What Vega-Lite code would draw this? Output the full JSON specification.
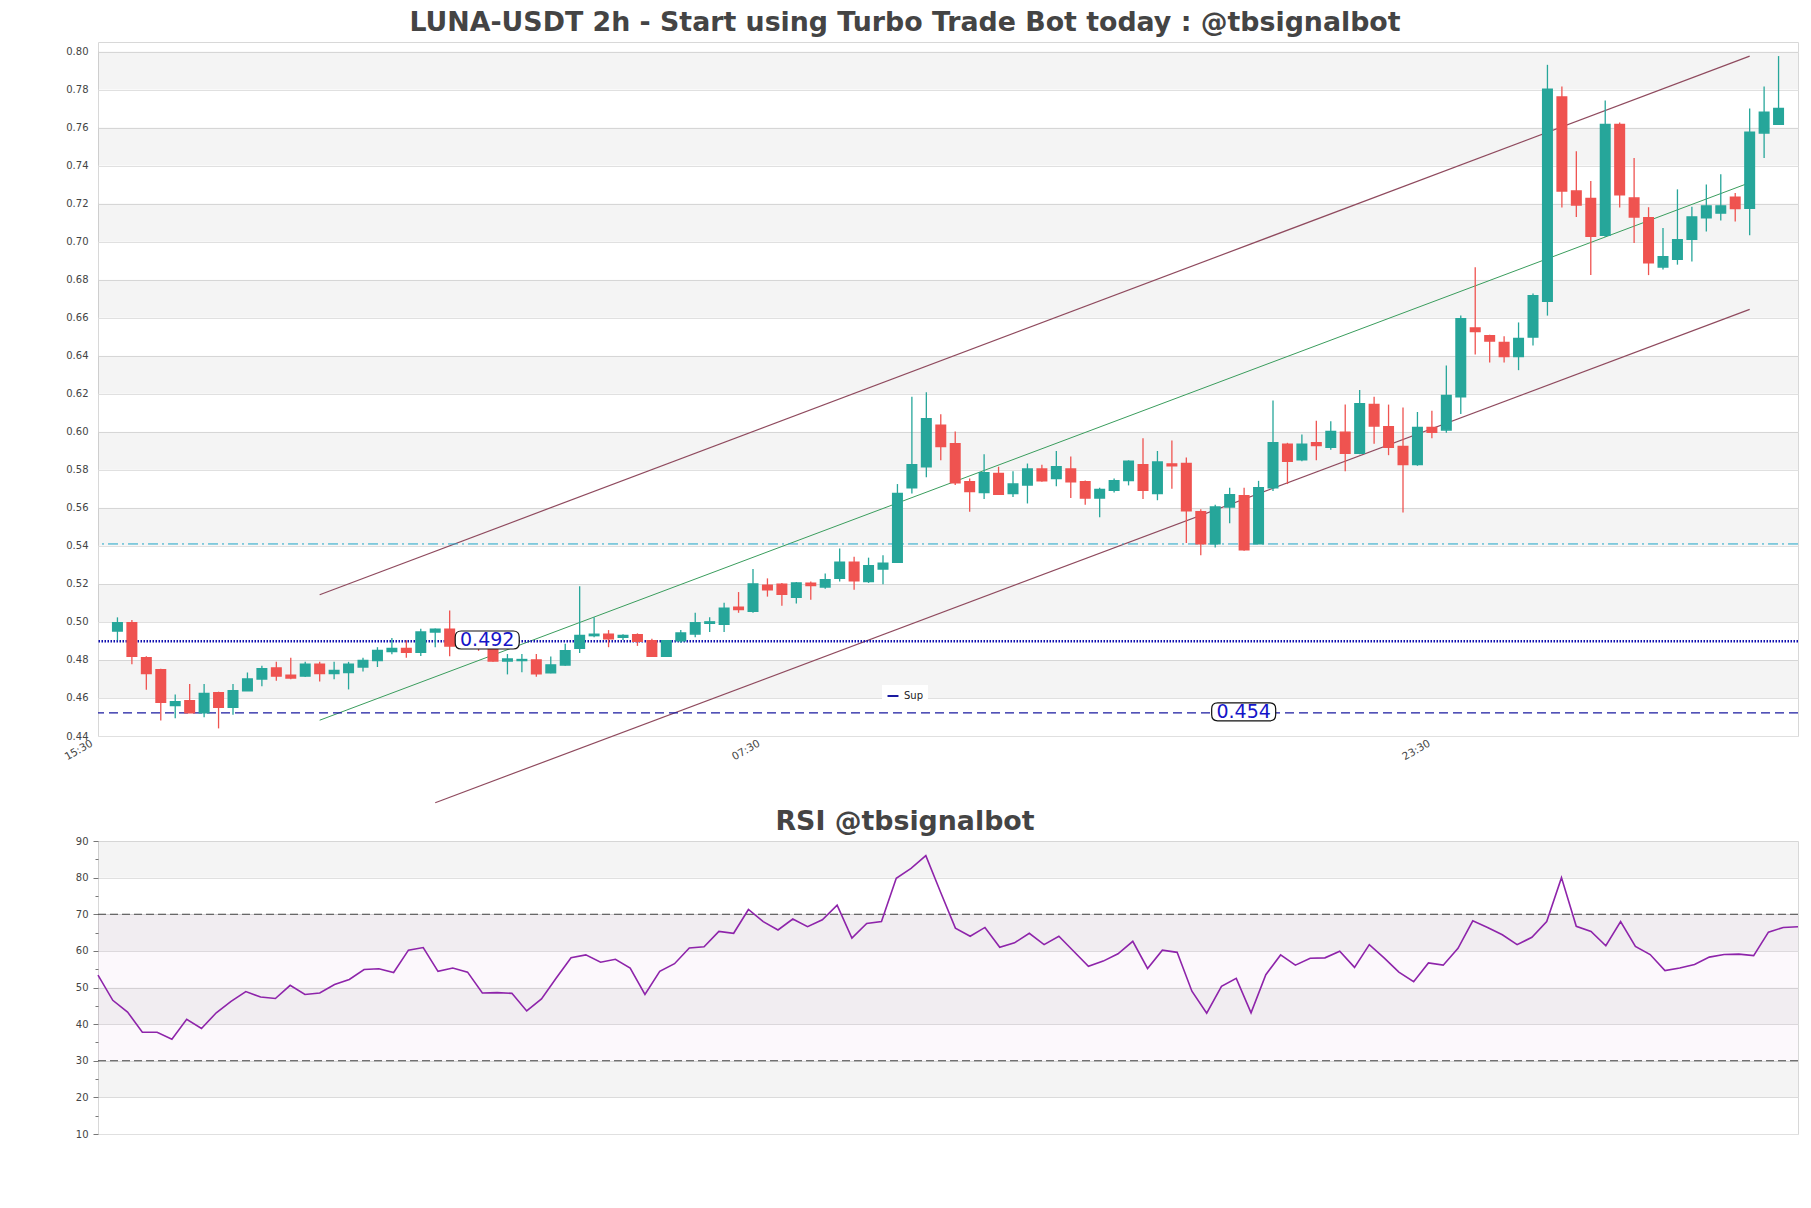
{
  "$schema": "https://vega.github.io/schema/vega-lite/v6.json",
  "background": "white",
  "padding": {"left": 62, "top": 9, "right": 14, "bottom": 10},
  "spacing": 2,
  "config": {
    "font": "DejaVu Sans",
    "view": {"stroke": "#d8d8d8", "strokeWidth": 1},
    "axis": {"labelFont": "DejaVu Sans", "labelFontSize": 10, "labelColor": "#444", "domain": false, "ticks": false, "title": null, "gridColor": "#e0e0e0", "gridWidth": 1, "labelOverlap": false},
    "title": {"font": "DejaVu Sans", "fontSize": 26.8, "fontWeight": "bold", "color": "#444", "anchor": "middle"}
  },
  "datasets": {
    "candles": [
      {"i":1,"o":0.4952,"h":0.5024,"l":0.4903,"c":0.4995},
      {"i":2,"o":0.4995,"h":0.5010,"l":0.4778,"c":0.4819},
      {"i":3,"o":0.4812,"h":0.4820,"l":0.4643,"c":0.4729},
      {"i":4,"o":0.4749,"h":0.4754,"l":0.4481,"c":0.4577},
      {"i":5,"o":0.4560,"h":0.4618,"l":0.4493,"c":0.4580},
      {"i":6,"o":0.4585,"h":0.4674,"l":0.4522,"c":0.4522},
      {"i":7,"o":0.4522,"h":0.4674,"l":0.4498,"c":0.4623},
      {"i":8,"o":0.4628,"h":0.4633,"l":0.4440,"c":0.4551},
      {"i":9,"o":0.4551,"h":0.4674,"l":0.4512,"c":0.4638},
      {"i":10,"o":0.4638,"h":0.4734,"l":0.4638,"c":0.4700},
      {"i":11,"o":0.4700,"h":0.4770,"l":0.4662,"c":0.4754},
      {"i":12,"o":0.4758,"h":0.4790,"l":0.4691,"c":0.4715},
      {"i":13,"o":0.4720,"h":0.4812,"l":0.4698,"c":0.4705},
      {"i":14,"o":0.4715,"h":0.4790,"l":0.4710,"c":0.4778},
      {"i":15,"o":0.4778,"h":0.4790,"l":0.4686,"c":0.4729},
      {"i":16,"o":0.4729,"h":0.4790,"l":0.4698,"c":0.4744},
      {"i":17,"o":0.4734,"h":0.4790,"l":0.4645,"c":0.4778},
      {"i":18,"o":0.4763,"h":0.4812,"l":0.4739,"c":0.4797},
      {"i":19,"o":0.4797,"h":0.4867,"l":0.4763,"c":0.4850},
      {"i":20,"o":0.4845,"h":0.4915,"l":0.4830,"c":0.4860},
      {"i":21,"o":0.4860,"h":0.4903,"l":0.4812,"c":0.4841},
      {"i":22,"o":0.4841,"h":0.4964,"l":0.4821,"c":0.4947},
      {"i":23,"o":0.4947,"h":0.4966,"l":0.4867,"c":0.4962},
      {"i":24,"o":0.4962,"h":0.5060,"l":0.4819,"c":0.4874},
      {"i":25,"o":0.4874,"h":0.4890,"l":0.4870,"c":0.4885},
      {"i":26,"o":0.4885,"h":0.4895,"l":0.4848,"c":0.4862},
      {"i":27,"o":0.4861,"h":0.4868,"l":0.4790,"c":0.4795},
      {"i":28,"o":0.4795,"h":0.4831,"l":0.4724,"c":0.4805},
      {"i":29,"o":0.4797,"h":0.4831,"l":0.4735,"c":0.4802},
      {"i":30,"o":0.4800,"h":0.4831,"l":0.4712,"c":0.4728},
      {"i":31,"o":0.4732,"h":0.4818,"l":0.4730,"c":0.4774},
      {"i":32,"o":0.4774,"h":0.4885,"l":0.4770,"c":0.4848},
      {"i":33,"o":0.4862,"h":0.5188,"l":0.4836,"c":0.4928},
      {"i":34,"o":0.4928,"h":0.5024,"l":0.4920,"c":0.4935},
      {"i":35,"o":0.4935,"h":0.4957,"l":0.4867,"c":0.4911},
      {"i":36,"o":0.4920,"h":0.4935,"l":0.4905,"c":0.4928},
      {"i":37,"o":0.4933,"h":0.4940,"l":0.4874,"c":0.4898},
      {"i":38,"o":0.4901,"h":0.4912,"l":0.4819,"c":0.4819},
      {"i":39,"o":0.4819,"h":0.4905,"l":0.4816,"c":0.4901},
      {"i":40,"o":0.4901,"h":0.4957,"l":0.4890,"c":0.4942},
      {"i":41,"o":0.4937,"h":0.5048,"l":0.4920,"c":0.4995},
      {"i":42,"o":0.4993,"h":0.5024,"l":0.4947,"c":0.5000},
      {"i":43,"o":0.4988,"h":0.5101,"l":0.4947,"c":0.5072},
      {"i":44,"o":0.5077,"h":0.5157,"l":0.5048,"c":0.5065},
      {"i":45,"o":0.5056,"h":0.5278,"l":0.5048,"c":0.5200},
      {"i":46,"o":0.5193,"h":0.5229,"l":0.5133,"c":0.5169},
      {"i":47,"o":0.5198,"h":0.5205,"l":0.5085,"c":0.5145},
      {"i":48,"o":0.5130,"h":0.5210,"l":0.5097,"c":0.5205},
      {"i":49,"o":0.5203,"h":0.5213,"l":0.5116,"c":0.5191},
      {"i":50,"o":0.5184,"h":0.5254,"l":0.5174,"c":0.5222},
      {"i":51,"o":0.5230,"h":0.5386,"l":0.5213,"c":0.5314},
      {"i":52,"o":0.5314,"h":0.5343,"l":0.5169,"c":0.5217},
      {"i":53,"o":0.5213,"h":0.5338,"l":0.5205,"c":0.5295},
      {"i":54,"o":0.5278,"h":0.5350,"l":0.5198,"c":0.5309},
      {"i":55,"o":0.5314,"h":0.5725,"l":0.5314,"c":0.5676},
      {"i":56,"o":0.5705,"h":0.6184,"l":0.5676,"c":0.5826},
      {"i":57,"o":0.5816,"h":0.6208,"l":0.5761,"c":0.6068},
      {"i":58,"o":0.6034,"h":0.6092,"l":0.5850,"c":0.5923},
      {"i":59,"o":0.5937,"h":0.6002,"l":0.5720,"c":0.5732},
      {"i":60,"o":0.5737,"h":0.5754,"l":0.5580,"c":0.5686},
      {"i":61,"o":0.5681,"h":0.5882,"l":0.5647,"c":0.5785},
      {"i":62,"o":0.5780,"h":0.5816,"l":0.5671,"c":0.5671},
      {"i":63,"o":0.5676,"h":0.5792,"l":0.5657,"c":0.5725},
      {"i":64,"o":0.5720,"h":0.5833,"l":0.5623,"c":0.5804},
      {"i":65,"o":0.5804,"h":0.5826,"l":0.5737,"c":0.5742},
      {"i":66,"o":0.5754,"h":0.5899,"l":0.5713,"c":0.5816},
      {"i":67,"o":0.5804,"h":0.5870,"l":0.5652,"c":0.5737},
      {"i":68,"o":0.5737,"h":0.5744,"l":0.5616,"c":0.5652},
      {"i":69,"o":0.5652,"h":0.5705,"l":0.5551,"c":0.5696},
      {"i":70,"o":0.5693,"h":0.5754,"l":0.5681,"c":0.5742},
      {"i":71,"o":0.5744,"h":0.5850,"l":0.5718,"c":0.5845},
      {"i":72,"o":0.5826,"h":0.5966,"l":0.5647,"c":0.5693},
      {"i":73,"o":0.5676,"h":0.5899,"l":0.5640,"c":0.5841},
      {"i":74,"o":0.5831,"h":0.5954,"l":0.5700,"c":0.5821},
      {"i":75,"o":0.5833,"h":0.5865,"l":0.5415,"c":0.5585},
      {"i":76,"o":0.5580,"h":0.5592,"l":0.5350,"c":0.5411},
      {"i":77,"o":0.5411,"h":0.5616,"l":0.5391,"c":0.5604},
      {"i":78,"o":0.5604,"h":0.5705,"l":0.5519,"c":0.5669},
      {"i":79,"o":0.5664,"h":0.5705,"l":0.5374,"c":0.5379},
      {"i":80,"o":0.5411,"h":0.5742,"l":0.5411,"c":0.5705},
      {"i":81,"o":0.5705,"h":0.6164,"l":0.5688,"c":0.5942},
      {"i":82,"o":0.5935,"h":0.5942,"l":0.5725,"c":0.5845},
      {"i":83,"o":0.5853,"h":0.5986,"l":0.5845,"c":0.5935},
      {"i":84,"o":0.5942,"h":0.6058,"l":0.5850,"c":0.5928},
      {"i":85,"o":0.5918,"h":0.6056,"l":0.5906,"c":0.6002},
      {"i":86,"o":0.5998,"h":0.6143,"l":0.5792,"c":0.5887},
      {"i":87,"o":0.5887,"h":0.6220,"l":0.5882,"c":0.6147},
      {"i":88,"o":0.6143,"h":0.6184,"l":0.5937,"c":0.6031},
      {"i":89,"o":0.6027,"h":0.6143,"l":0.5877,"c":0.5918},
      {"i":90,"o":0.5923,"h":0.6128,"l":0.5575,"c":0.5828},
      {"i":91,"o":0.5828,"h":0.6104,"l":0.5821,"c":0.6022},
      {"i":92,"o":0.6022,"h":0.6111,"l":0.5966,"c":0.5998},
      {"i":93,"o":0.6010,"h":0.6348,"l":0.5995,"c":0.6191},
      {"i":94,"o":0.6184,"h":0.6611,"l":0.6094,"c":0.6594},
      {"i":95,"o":0.6546,"h":0.6865,"l":0.6406,"c":0.6527},
      {"i":96,"o":0.6505,"h":0.6510,"l":0.6365,"c":0.6478},
      {"i":97,"o":0.6469,"h":0.6502,"l":0.6365,"c":0.6396},
      {"i":98,"o":0.6396,"h":0.6575,"l":0.6324,"c":0.6490},
      {"i":99,"o":0.6498,"h":0.6727,"l":0.6454,"c":0.6715},
      {"i":100,"o":0.6686,"h":0.7930,"l":0.6611,"c":0.7802},
      {"i":101,"o":0.7761,"h":0.7816,"l":0.7179,"c":0.7266},
      {"i":102,"o":0.7266,"h":0.7476,"l":0.7130,"c":0.7193},
      {"i":103,"o":0.7227,"h":0.7319,"l":0.6824,"c":0.7029},
      {"i":104,"o":0.7034,"h":0.7742,"l":0.7024,"c":0.7616},
      {"i":105,"o":0.7616,"h":0.7626,"l":0.7179,"c":0.7246},
      {"i":106,"o":0.7229,"h":0.7440,"l":0.6993,"c":0.7130},
      {"i":107,"o":0.7126,"h":0.7181,"l":0.6824,"c":0.6889},
      {"i":108,"o":0.6867,"h":0.7072,"l":0.6853,"c":0.6920},
      {"i":109,"o":0.6908,"h":0.7275,"l":0.6879,"c":0.7010},
      {"i":110,"o":0.7012,"h":0.7184,"l":0.6896,"c":0.7130},
      {"i":111,"o":0.7126,"h":0.7300,"l":0.7053,"c":0.7188},
      {"i":112,"o":0.7150,"h":0.7355,"l":0.7111,"c":0.7188},
      {"i":113,"o":0.7234,"h":0.7256,"l":0.7106,"c":0.7174},
      {"i":114,"o":0.7176,"h":0.7700,"l":0.7034,"c":0.7575},
      {"i":115,"o":0.7572,"h":0.7816,"l":0.7440,"c":0.7681},
      {"i":116,"o":0.7618,"h":0.7976,"l":0.7618,"c":0.7700}
    ],
    "rsi": [
      {"i":1,"r":53.4},{"i":2,"r":46.5},{"i":3,"r":43.3},{"i":4,"r":37.8},{"i":5,"r":37.8},
      {"i":6,"r":35.9},{"i":7,"r":41.3},{"i":8,"r":38.8},{"i":9,"r":43.1},{"i":10,"r":46.2},
      {"i":11,"r":48.9},{"i":12,"r":47.4},{"i":13,"r":47.0},{"i":14,"r":50.6},{"i":15,"r":48.1},
      {"i":16,"r":48.5},{"i":17,"r":50.8},{"i":18,"r":52.2},{"i":19,"r":54.9},{"i":20,"r":55.1},
      {"i":21,"r":54.1},{"i":22,"r":60.2},{"i":23,"r":60.9},{"i":24,"r":54.4},{"i":25,"r":55.3},
      {"i":26,"r":54.2},{"i":27,"r":48.5},{"i":28,"r":48.6},{"i":29,"r":48.4},{"i":30,"r":43.6},
      {"i":31,"r":46.9},{"i":32,"r":52.6},{"i":33,"r":58.1},{"i":34,"r":58.9},{"i":35,"r":56.9},
      {"i":36,"r":57.7},{"i":37,"r":55.3},{"i":38,"r":48.1},{"i":39,"r":54.4},{"i":40,"r":56.5},
      {"i":41,"r":60.8},{"i":42,"r":61.1},{"i":43,"r":65.3},{"i":44,"r":64.8},{"i":45,"r":71.3},
      {"i":46,"r":68.0},{"i":47,"r":65.7},{"i":48,"r":68.7},{"i":49,"r":66.6},{"i":50,"r":68.5},
      {"i":51,"r":72.5},{"i":52,"r":63.5},{"i":53,"r":67.5},{"i":54,"r":68.0},{"i":55,"r":79.8},
      {"i":56,"r":82.5},{"i":57,"r":86.0},{"i":58,"r":76.0},{"i":59,"r":66.2},{"i":60,"r":64.0},
      {"i":61,"r":66.4},{"i":62,"r":61.0},{"i":63,"r":62.2},{"i":64,"r":64.8},{"i":65,"r":61.7},
      {"i":66,"r":64.0},{"i":67,"r":59.9},{"i":68,"r":55.8},{"i":69,"r":57.2},{"i":70,"r":59.2},
      {"i":71,"r":62.6},{"i":72,"r":55.2},{"i":73,"r":60.2},{"i":74,"r":59.6},{"i":75,"r":49.0},
      {"i":76,"r":43.0},{"i":77,"r":50.3},{"i":78,"r":52.5},{"i":79,"r":43.1},{"i":80,"r":53.5},
      {"i":81,"r":58.9},{"i":82,"r":56.1},{"i":83,"r":58.0},{"i":84,"r":58.1},{"i":85,"r":59.9},
      {"i":86,"r":55.5},{"i":87,"r":61.7},{"i":88,"r":58.1},{"i":89,"r":54.2},{"i":90,"r":51.6},
      {"i":91,"r":56.7},{"i":92,"r":56.1},{"i":93,"r":60.7},{"i":94,"r":68.2},{"i":95,"r":66.4},
      {"i":96,"r":64.4},{"i":97,"r":61.7},{"i":98,"r":63.7},{"i":99,"r":68.0},{"i":100,"r":80.0},
      {"i":101,"r":66.7},{"i":102,"r":65.3},{"i":103,"r":61.4},{"i":104,"r":68.0},{"i":105,"r":61.2},
      {"i":106,"r":59.0},{"i":107,"r":54.6},{"i":108,"r":55.3},{"i":109,"r":56.3},{"i":110,"r":58.3},
      {"i":111,"r":59.0},{"i":112,"r":59.1},{"i":113,"r":58.7},{"i":114,"r":65.1},{"i":115,"r":66.4},
      {"i":116,"r":66.6}
    ]
  },
  "vconcat": [
    {
      "width": 1700,
      "height": 694,
      "title": {"text": "LUNA-USDT 2h - Start using Turbo Trade Bot today : @tbsignalbot", "dx": -43, "offset": 5},
      "layer": [
        {
          "data": {"values": [{"y0":0.46,"y1":0.48},{"y0":0.50,"y1":0.52},{"y0":0.54,"y1":0.56},{"y0":0.58,"y1":0.60},{"y0":0.62,"y1":0.64},{"y0":0.66,"y1":0.68},{"y0":0.70,"y1":0.72},{"y0":0.74,"y1":0.76},{"y0":0.78,"y1":0.80}]},
          "mark": {"type": "rect", "fill": "#000000", "fillOpacity": 0.045},
          "encoding": {
            "y": {"field": "y0", "type": "quantitative", "scale": {"domain": [0.44, 0.805], "zero": false, "nice": false},
                  "axis": {"values": [0.44,0.46,0.48,0.50,0.52,0.54,0.56,0.58,0.60,0.62,0.64,0.66,0.68,0.70,0.72,0.74,0.76,0.78,0.80], "format": ".2f", "labelPadding": 10, "grid": true, "labelOverlap": false, "labelSeparation": 0, "tickCount": 19}},
            "y2": {"field": "y1"}
          }
        },
        {
          "data": {"values": [{"line":"upper","i":15,"v":0.5143},{"line":"upper","i":114,"v":0.7976},{"line":"lower","i":23,"v":0.4049},{"line":"lower","i":114,"v":0.6644}]},
          "mark": {"type": "line", "color": "#8f4a5e", "strokeWidth": 1.2},
          "encoding": {
            "x": {"field": "i", "type": "quantitative", "scale": {"domain": [0, 117], "zero": false, "nice": false},
                  "axis": {"values": [0, 46.2, 92.6], "labelExpr": "datum.value < 20 ? '15:30' : datum.value < 60 ? '07:30' : '23:30'", "labelAngle": -30, "labelAlign": "right", "labelBaseline": "top", "labelPadding": 2, "labelOffset": -14, "labelFontSize": 10.5, "grid": false}},
            "y": {"field": "v", "type": "quantitative"},
            "detail": {"field": "line"}
          }
        },
        {
          "data": {"values": [{"i":15,"v":0.4483},{"i":114,"v":0.7310}]},
          "mark": {"type": "line", "color": "#3a9d5d", "strokeWidth": 1},
          "encoding": {"x": {"field": "i", "type": "quantitative"}, "y": {"field": "v", "type": "quantitative"}}
        },
        {
          "data": {"values": [{"v": 0.541}]},
          "mark": {"type": "rule", "color": "#1ea5c8", "strokeWidth": 1, "strokeDash": [10, 4, 2, 4]},
          "encoding": {"y": {"field": "v", "type": "quantitative"}}
        },
        {
          "data": {"values": [{"v": 0.4898}]},
          "mark": {"type": "rule", "color": "#1010b0", "strokeWidth": 2.5, "strokeDash": [1.5, 1.5]},
          "encoding": {"y": {"field": "v", "type": "quantitative"}}
        },
        {
          "data": {"values": [{"v": 0.4522, "name": "Sup"}]},
          "mark": {"type": "rule", "strokeWidth": 1.3, "strokeDash": [9, 5]},
          "encoding": {
            "y": {"field": "v", "type": "quantitative"},
            "color": {"field": "name", "type": "nominal", "scale": {"domain": ["Sup"], "range": ["#1a1aa0"]},
                      "legend": {"orient": "none", "legendX": 784, "legendY": 643, "title": null, "fillColor": "white", "padding": 4, "labelFontSize": 10, "labelColor": "#222", "labelFont": "DejaVu Sans", "symbolType": "stroke", "symbolSize": 120, "symbolStrokeWidth": 2.2,
                                 "encode": {"symbols": {"update": {"strokeDash": {"value": [1, 0]}}}}}}
          }
        },
        {
          "data": {"name": "candles"},
          "mark": {"type": "rule", "strokeWidth": 1.3},
          "encoding": {
            "x": {"field": "i", "type": "quantitative"},
            "y": {"field": "l", "type": "quantitative"},
            "y2": {"field": "h"},
            "color": {"condition": {"test": "datum.c >= datum.o", "value": "#26a69a"}, "value": "#ef5350"}
          }
        },
        {
          "data": {"name": "candles"},
          "mark": {"type": "bar", "size": 9.5, "strokeWidth": 1.5},
          "encoding": {
            "x": {"field": "i", "type": "quantitative"},
            "y": {"field": "o", "type": "quantitative"},
            "y2": {"field": "c"},
            "fill": {"condition": {"test": "datum.c >= datum.o", "value": "#26a69a"}, "value": "#ef5350"},
            "stroke": {"condition": {"test": "datum.c >= datum.o", "value": "#26a69a"}, "value": "#ef5350"}
          }
        },
        {
          "data": {"values": [{"i": 26.6, "v": 0.4905, "txt": "0.492"}, {"i": 78.97, "v": 0.4527, "txt": "0.454"}]},
          "layer": [
            {
              "mark": {"type": "point", "filled": true, "fill": "white", "fillOpacity": 1, "stroke": "#111", "strokeWidth": 1.2, "opacity": 1, "size": 4096,
                       "shape": "M -0.8125 -0.28125 L 0.8125 -0.28125 Q 1 -0.28125 1 -0.09375 L 1 0.09375 Q 1 0.28125 0.8125 0.28125 L -0.8125 0.28125 Q -1 0.28125 -1 0.09375 L -1 -0.09375 Q -1 -0.28125 -0.8125 -0.28125 Z"},
              "encoding": {"x": {"field": "i", "type": "quantitative"}, "y": {"field": "v", "type": "quantitative"}}
            },
            {
              "mark": {"type": "text", "font": "DejaVu Sans", "fontSize": 19, "color": "#1515c8", "align": "center", "baseline": "middle"},
              "encoding": {"x": {"field": "i", "type": "quantitative"}, "y": {"field": "v", "type": "quantitative"}, "text": {"field": "txt"}}
            }
          ]
        }
      ]
    },
    {
      "width": 1700,
      "height": 293,
      "title": {"text": "RSI @tbsignalbot", "dx": -43, "offset": 0},
      "layer": [
        {
          "data": {"values": [{"a":20,"b":30},{"a":40,"b":50},{"a":60,"b":70},{"a":80,"b":90}]},
          "mark": {"type": "rect", "fill": "#000000", "fillOpacity": 0.045},
          "encoding": {
            "y": {"field": "a", "type": "quantitative", "scale": {"domain": [10, 90], "zero": false, "nice": false},
                  "axis": {"values": [10,15,20,25,30,35,40,45,50,55,60,65,70,75,80,85,90], "labelExpr": "datum.value % 10 == 0 ? datum.label : ''", "ticks": true, "tickColor": "#777",
                           "tickSize": {"condition": {"test": "datum.value % 10 == 0", "value": 5}, "value": 3},
                           "labelPadding": 5, "grid": true, "labelOverlap": false, "labelSeparation": 0, "tickCount": 17,
                           "gridColor": {"condition": {"test": "datum.value % 10 == 0", "value": "#e0e0e0"}, "value": "rgba(0,0,0,0)"}}},
            "y2": {"field": "b"}
          }
        },
        {
          "data": {"values": [{"a": 30, "b": 70}]},
          "mark": {"type": "rect", "fill": "#800080", "fillOpacity": 0.028},
          "encoding": {"y": {"field": "a", "type": "quantitative"}, "y2": {"field": "b"}}
        },
        {
          "data": {"values": [{"v": 30}, {"v": 70}]},
          "mark": {"type": "rule", "color": "#444", "strokeWidth": 1.2, "strokeDash": [8, 4]},
          "encoding": {"y": {"field": "v", "type": "quantitative"}}
        },
        {
          "data": {"name": "rsi"},
          "mark": {"type": "line", "color": "#8e24aa", "strokeWidth": 1.6},
          "encoding": {
            "x": {"field": "i", "type": "quantitative", "scale": {"domain": [1, 116], "zero": false, "nice": false}, "axis": null},
            "y": {"field": "r", "type": "quantitative"}
          }
        }
      ]
    }
  ]
}
